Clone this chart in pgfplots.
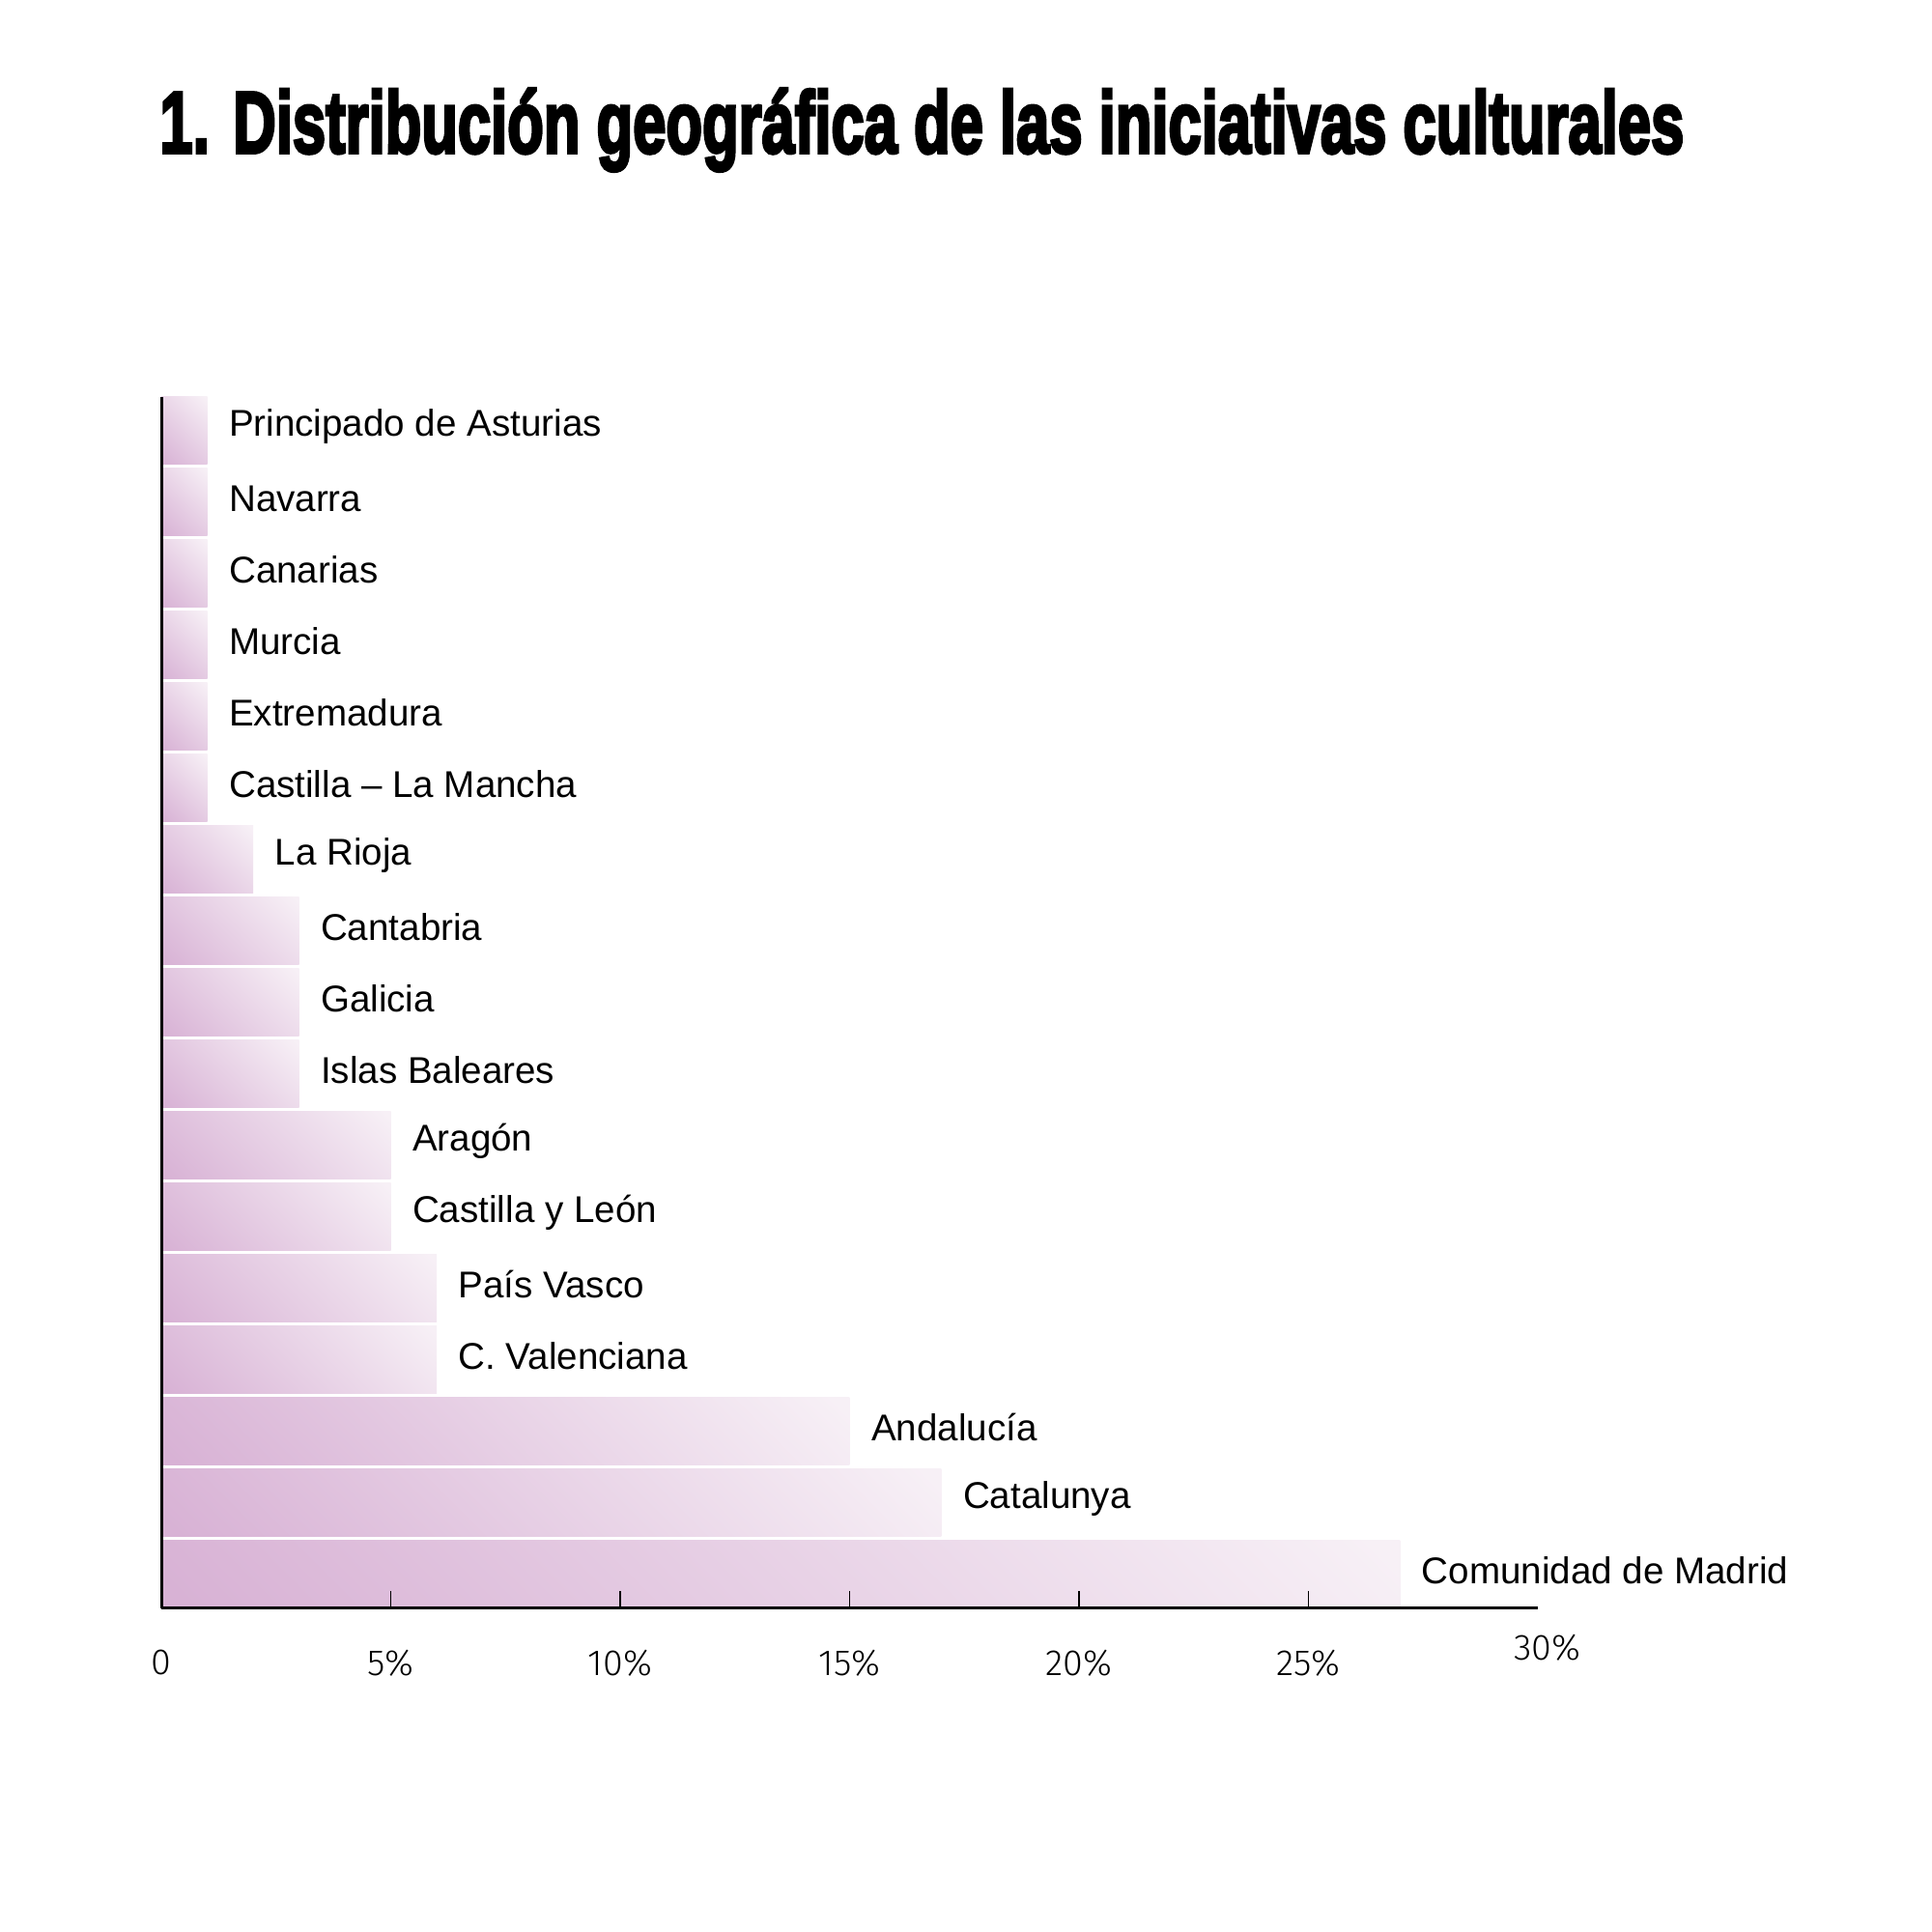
\documentclass[border=0pt]{standalone}
\usepackage{pgfplots}
\pgfplotsset{compat=1.18}
\usepackage{fontspec}
\setmainfont{Liberation Sans}
\newfontfamily\tickfont{Fira Sans Light}
\newfontfamily\titlefont{Liberation Sans Bold}[FakeBold=4]
\definecolor{bardark}{HTML}{D8B2D5}
\definecolor{barlight}{HTML}{F7F0F6}
\pgfdeclareverticalshading{barshade}{100bp}{color(0bp)=(bardark); color(16bp)=(bardark); color(84bp)=(barlight); color(100bp)=(barlight)}
\pgfplotsset{regionbar/.style={draw=none, shading=barshade, shading angle=-45}}
\begin{document}
\begin{tikzpicture}[x=1cm,y=1cm]
\path[use as bounding box] (0,0) rectangle (15.68,15.68);
\node[anchor=base west, inner sep=0pt] at (1.29,14.44)
  {\resizebox{12.37cm}{\height}{\titlefont\fontsize{20.2}{22}\selectfont 1.\hspace{0.4em}Distribución geográfica de las iniciativas culturales}};
\begin{axis}[
  at={(1.31cm,2.63cm)}, anchor=south west,
  scale only axis, width=11.17cm, height=9.83cm,
  xmin=0, xmax=30, ymin=-0.475, ymax=16.475,
  xbar, bar width=0.95, bar shift=0pt,
  axis x line=bottom, axis y line=left,
  axis line style={-, line width=0.65pt, black},
  ytick=\empty,
  xtick={0,5,10,15,20,25},
  xticklabels={0,5\%,10\%,15\%,20\%,25\%},
  extra x ticks={30},
  extra x tick labels={30\%},
  extra x tick style={major tick length=0pt, xticklabel style={xshift=0.08cm, yshift=0.13cm}},
  tick align=inside, major tick length=0.14cm,
  tick style={line width=0.4pt, black},
  xticklabel style={font=\tickfont\fontsize{8.4}{10}\selectfont, yshift=-0.22cm},
  axis on top,
  clip=false,
  nodes near coords,
  point meta=explicit symbolic,
  every node near coord/.append style={anchor=west, inner sep=0pt, xshift=0.17cm, yshift=0.03cm, font=\fontsize{8.6}{10}\selectfont, text=black},
]
\addplot[regionbar] coordinates {(27,0) [Comunidad de Madrid]};
\addplot[regionbar] coordinates {(17,1) [Catalunya]};
\addplot[regionbar] coordinates {(15,2) [Andalucía]};
\addplot[regionbar] coordinates {(6,3) [C. Valenciana]};
\addplot[regionbar] coordinates {(6,4) [País Vasco]};
\addplot[regionbar] coordinates {(5,5) [Castilla y León]};
\addplot[regionbar] coordinates {(5,6) [Aragón]};
\addplot[regionbar] coordinates {(3,7) [Islas Baleares]};
\addplot[regionbar] coordinates {(3,8) [Galicia]};
\addplot[regionbar] coordinates {(3,9) [Cantabria]};
\addplot[regionbar] coordinates {(2,10) [La Rioja]};
\addplot[regionbar] coordinates {(1,11) [Castilla – La Mancha]};
\addplot[regionbar] coordinates {(1,12) [Extremadura]};
\addplot[regionbar] coordinates {(1,13) [Murcia]};
\addplot[regionbar] coordinates {(1,14) [Canarias]};
\addplot[regionbar] coordinates {(1,15) [Navarra]};
\addplot[regionbar] coordinates {(1,16) [Principado de Asturias]};
\end{axis}
\end{tikzpicture}
\end{document}
